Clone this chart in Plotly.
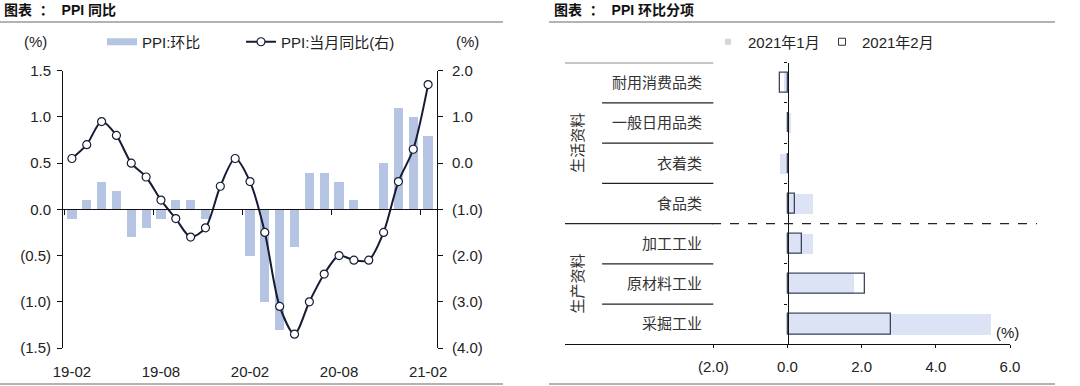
import plotly.graph_objects as go

# ---------------- data ----------------
months = ['19-02', '19-03', '19-04', '19-05', '19-06', '19-07', '19-08', '19-09', '19-10',
          '19-11', '19-12', '20-01', '20-02', '20-03', '20-04', '20-05', '20-06', '20-07',
          '20-08', '20-09', '20-10', '20-11', '20-12', '21-01', '21-02']
ppi_mom = [-0.1, 0.1, 0.3, 0.2, -0.3, -0.2, -0.1, 0.1, 0.1, -0.1, 0.0, 0.0, -0.5, -1.0,
           -1.3, -0.4, 0.4, 0.4, 0.3, 0.1, 0.0, 0.5, 1.1, 1.0, 0.8]
ppi_yoy = [0.1, 0.4, 0.9, 0.6, 0.0, -0.3, -0.8, -1.2, -1.6, -1.4, -0.5, 0.1, -0.4, -1.5,
           -3.1, -3.7, -3.0, -2.4, -2.0, -2.1, -2.1, -1.5, -0.4, 0.3, 1.7]
month_ticks = ['19-02', '19-08', '20-02', '20-08', '21-02']
left_ticks = [-1.5, -1.0, -0.5, 0.0, 0.5, 1.0, 1.5]
right_ticks = [-4.0, -3.0, -2.0, -1.0, 0.0, 1.0, 2.0]

items = ['耐用消费品类', '一般日用品类', '衣着类', '食品类', '加工工业', '原材料工业', '采掘工业']
groups = ['生活资料', '生产资料']
group_sizes = [4, 3]
jan_2021 = [-0.1, 0.1, -0.2, 0.7, 0.7, 1.8, 5.5]
feb_2021 = [-0.2, 0.0, 0.0, 0.2, 0.4, 2.1, 2.8]
sub_ticks = [-2.0, 0.0, 2.0, 4.0, 6.0]


def fmt(v):
    return f"({abs(v):.1f})" if v < 0 else f"{v:.1f}"


# ---------------- style / layout constants ----------------
W, H = 1080, 386
FONT = "Arial, 'Noto Sans CJK SC', sans-serif"
CJK = "'Noto Sans CJK SC', sans-serif"
TXT = '#222222'
BAR = '#b4c4e2'
LINE = '#161c33'
JAN = '#dbe3f4'
FEB_EDGE = '#3c465e'

L_X0, L_X1 = 63 / W, 437 / W
L_Y0, L_Y1 = 1 - 348 / H, 1 - 70.7 / H
R_X0, R_X1 = 565 / W, 1010 / W
R_Y0, R_Y1 = 1 - 344.3 / H, 1 - 62.7 / H

L_RANGE = [-1.5, 1.5]
X_RANGE = [-0.6, len(months) - 1 + 0.6]
R_XRANGE = [-6, 6]
R_YRANGE = [len(items) - 0.5, -0.5]

zero_left = L_Y0 + (0 - L_RANGE[0]) / (L_RANGE[1] - L_RANGE[0]) * (L_Y1 - L_Y0)
zero_right = R_X0 + (0 - R_XRANGE[0]) / (R_XRANGE[1] - R_XRANGE[0]) * (R_X1 - R_X0)
tick_bounds = [months.index(m) - 0.5 for m in month_ticks]

fig = go.Figure()

# ---------------- left chart ----------------
fig.add_trace(go.Bar(x=months, y=ppi_mom, xaxis='x', yaxis='y', marker=dict(color=BAR, line=dict(width=0)),
                     width=0.62, showlegend=False, hoverinfo='skip'))
fig.add_trace(go.Scatter(x=[None], y=[None], xaxis='x', yaxis='y', mode='lines',
                         line=dict(color=BAR, width=7), name='PPI:环比', legend='legend'))
fig.add_trace(go.Scatter(x=months, y=ppi_yoy, xaxis='x', yaxis='y2', mode='lines+markers',
                         line=dict(color=LINE, width=2, shape='spline', smoothing=0.8),
                         marker=dict(size=8, color='white', line=dict(color=LINE, width=1.2)),
                         name='PPI:当月同比(右)', legend='legend2', hoverinfo='skip'))
fig.add_trace(go.Scatter(x=[None], y=[None], xaxis='x2', yaxis='y', showlegend=False, hoverinfo='skip'))

# ---------------- right chart ----------------
fig.add_trace(go.Bar(x=jan_2021, y=items, orientation='h', xaxis='x3', yaxis='y3', width=0.5,
                     marker=dict(color=JAN, line=dict(width=0)), showlegend=False, hoverinfo='skip'))
fig.add_trace(go.Bar(x=feb_2021, y=items, orientation='h', xaxis='x3', yaxis='y3', width=0.5,
                     marker=dict(color='rgba(0,0,0,0)', line=dict(color=FEB_EDGE, width=1.3)),
                     showlegend=False, hoverinfo='skip'))
fig.add_trace(go.Scatter(x=[None], y=[None], xaxis='x3', yaxis='y4', showlegend=False, hoverinfo='skip'))
fig.add_trace(go.Scatter(x=[None], y=[None], xaxis='x3', yaxis='y3', mode='markers',
                         marker=dict(symbol='square', size=6, color='#d6d6d6'),
                         name='2021年1月', legend='legend3'))
fig.add_trace(go.Scatter(x=[None], y=[None], xaxis='x3', yaxis='y3', mode='markers',
                         marker=dict(symbol='square-open', size=7, color='#333333', line=dict(width=1)),
                         name='2021年2月', legend='legend4'))

axis_common = dict(showgrid=False, zeroline=False, linecolor='#111111', tickcolor='#111111',
                   automargin=False, tickfont=dict(family=FONT, size=15, color=TXT))

shapes = []
# title rules
for x0, x1 in [(0, 503), (549, 1055)]:
    for y in (22, 384):
        shapes.append(dict(type='line', xref='paper', yref='paper', x0=x0 / W, x1=x1 / W,
                           y0=1 - y / H, y1=1 - y / H, line=dict(color='#9a9a9a', width=1.5)))

# table lines of right chart
starts = [0]
for s in group_sizes[:-1]:
    starts.append(starts[-1] + s)
shapes.append(dict(type='line', xref='x3', yref='y4', x0=R_XRANGE[0], x1=-2, y0=-0.5, y1=-0.5,
                   line=dict(color='#222222', width=1.2)))
for gi, (st, sz) in enumerate(zip(starts, group_sizes)):
    for k in range(1, sz):
        yb = st + k - 0.5
        shapes.append(dict(type='line', xref='x3', yref='y4', x0=-5.0, x1=-2, y0=yb, y1=yb,
                           line=dict(color='#222222', width=1.2)))
    if gi < len(group_sizes) - 1:
        yb = st + sz - 0.5
        shapes.append(dict(type='line', xref='x3', yref='y4', x0=R_XRANGE[0], x1=-2, y0=yb, y1=yb,
                           line=dict(color='#222222', width=1.2)))
        shapes.append(dict(type='line', xref='paper', yref='y4', x0=712 / W, x1=1037 / W, y0=yb, y1=yb,
                           line=dict(color='#222222', width=1.2, dash='dash')))

annotations = [
    dict(text='<b>图表  ：  PPI 同比</b>', xref='paper', yref='paper', x=2 / W, y=1 - 10 / H,
         xanchor='left', yanchor='middle', showarrow=False, font=dict(family=FONT, size=14, color='#111')),
    dict(text='<b>图表  ：  PPI 环比分项</b>', xref='paper', yref='paper', x=552 / W, y=1 - 10 / H,
         xanchor='left', yanchor='middle', showarrow=False, font=dict(family=FONT, size=14, color='#111')),
    dict(text='(%)', xref='paper', yref='paper', x=35 / W, y=1 - 42 / H, xanchor='center', yanchor='middle',
         showarrow=False, font=dict(family=FONT, size=15, color=TXT)),
    dict(text='(%)', xref='paper', yref='paper', x=467 / W, y=1 - 42 / H, xanchor='center', yanchor='middle',
         showarrow=False, font=dict(family=FONT, size=15, color=TXT)),
    dict(text='(%)', xref='paper', yref='paper', x=1007 / W, y=1 - 332 / H, xanchor='center', yanchor='middle',
         showarrow=False, font=dict(family=FONT, size=15, color=TXT)),
]
for g, st, sz in zip(groups, starts, group_sizes):
    annotations.append(dict(text=g, xref='x3', yref='y4', x=-5.69, y=st + (sz - 1) / 2, textangle=-90,
                            xanchor='center', yanchor='middle', showarrow=False,
                            font=dict(family=CJK, size=15, color='#333333')))

legend_common = dict(orientation='h', bgcolor='rgba(0,0,0,0)', borderwidth=0, yanchor='middle',
                     xanchor='left', font=dict(family=FONT, size=15, color=TXT), itemwidth=30)

fig.update_layout(
    width=W, height=H, margin=dict(l=0, r=0, t=0, b=0, pad=0, autoexpand=False),
    paper_bgcolor='white', plot_bgcolor='white',
    barmode='overlay', bargap=0,
    xaxis=dict(domain=[L_X0, L_X1], anchor='y', type='category', categoryorder='array',
               categoryarray=months, range=X_RANGE, tickmode='array', tickvals=month_ticks,
               ticks='outside', ticklen=10, tickcolor='rgba(0,0,0,0)', showline=False, automargin=False,
               showgrid=False, zeroline=False, tickfont=dict(family=FONT, size=15, color=TXT)),
    xaxis2=dict(overlaying='x', anchor='free', position=zero_left, type='linear', range=X_RANGE,
                tickmode='array', tickvals=tick_bounds, ticks='outside', ticklen=5,
                showticklabels=False, showline=True, linewidth=1,
                **{k: v for k, v in axis_common.items() if k != 'tickfont'}),
    yaxis=dict(domain=[L_Y0, L_Y1], anchor='x', range=L_RANGE, tickmode='array', tickvals=left_ticks,
               ticktext=[fmt(v) for v in left_ticks], showline=True, linewidth=1, ticks='outside',
               ticklen=5, ticklabelstandoff=3, **axis_common),
    yaxis2=dict(overlaying='y', side='right', anchor='x', range=[right_ticks[0], right_ticks[-1]],
                tickmode='array', tickvals=right_ticks, ticktext=[fmt(v) for v in right_ticks],
                showline=True, linewidth=1, ticks='outside', ticklen=5, ticklabelstandoff=6, **axis_common),
    xaxis3=dict(domain=[R_X0, R_X1], anchor='y3', range=R_XRANGE, tickmode='array', tickvals=sub_ticks,
                ticktext=[fmt(v) for v in sub_ticks], showline=True, linewidth=1.2, ticks='outside',
                ticklen=3, ticklabelstandoff=6, **axis_common),
    yaxis3=dict(domain=[R_Y0, R_Y1], anchor='free', position=zero_right, type='category',
                categoryorder='array', categoryarray=items, range=R_YRANGE, showline=True, linewidth=1.2,
                ticks='outside', ticklen=3, tickson='boundaries', showticklabels=False, automargin=False,
                showgrid=False, zeroline=False, linecolor='#111111', tickcolor='#111111'),
    yaxis4=dict(overlaying='y3', anchor='free', position=702 / W, range=R_YRANGE, tickmode='array',
                tickvals=list(range(len(items))), ticktext=items, ticks='', showline=False, automargin=False,
                showgrid=False, zeroline=False, tickfont=dict(family=CJK, size=15, color='#333333')),
    legend=dict(x=102 / W, y=1 - 42 / H, **legend_common),
    legend2=dict(x=241 / W, y=1 - 42 / H, **legend_common),
    legend3=dict(x=708 / W, y=1 - 42 / H, **legend_common),
    legend4=dict(x=822 / W, y=1 - 42 / H, **legend_common),
    shapes=shapes, annotations=annotations,
)

fig.write_html("out.html", config={'displayModeBar': False},
               post_script="document.body.style.margin='0';document.body.style.padding='0';"
                           "document.body.style.overflow='hidden';")
